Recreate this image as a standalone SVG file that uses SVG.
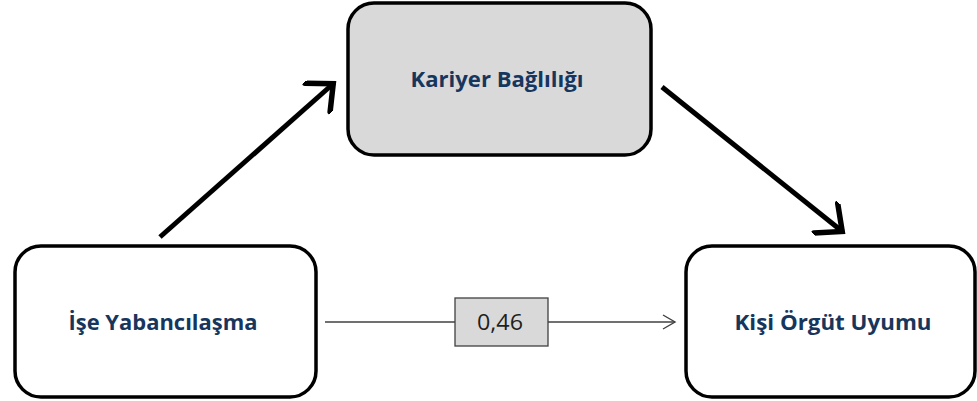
<svg xmlns="http://www.w3.org/2000/svg" width="977" height="401" viewBox="0 0 977 401">
<style>
.box{fill:#ffffff;stroke:#000;stroke-width:3.5}
.grey{fill:#d9d9d9}
.lbl{font-family:"Open Sans","Liberation Sans",sans-serif;font-weight:bold;font-size:21px;fill:#17365d;text-anchor:middle}
.num{font-family:"Open Sans","Liberation Sans",sans-serif;font-size:22px;fill:#1f1f1f;text-anchor:middle}
.thick{stroke:#000;stroke-width:5;fill:none;stroke-linecap:butt}
.thin{stroke:#404040;stroke-width:1.3;fill:none}
</style>
<defs>
<marker id="big" markerWidth="8" markerHeight="8" refX="5.2" refY="4" orient="auto" markerUnits="strokeWidth" viewBox="0 0 8 8">
<path d="M0.8,0.2 L5,4 L0.8,7.8" fill="none" stroke="#000" stroke-width="1.1" stroke-linecap="round" stroke-linejoin="miter"/>
</marker>
<marker id="small" markerWidth="16" markerHeight="18" refX="14" refY="9" orient="auto" markerUnits="userSpaceOnUse" viewBox="0 0 16 18">
<path d="M2,2 L14,9 L2,16" fill="none" stroke="#404040" stroke-width="1.4"/>
</marker>
</defs>
<g id="connectors">
<line class="thick" x1="160" y1="237" x2="334" y2="83" marker-end="url(#big)"/>
<line class="thick" x1="662" y1="87" x2="843" y2="232" marker-end="url(#big)"/>
<line class="thin" x1="325" y1="322" x2="455" y2="322"/>
<line class="thin" x1="548" y1="322" x2="675" y2="322" marker-end="url(#small)"/>
<g id="label-046">
<rect x="455" y="298" width="93" height="48" fill="#d9d9d9" stroke="#404040" stroke-width="1.3"/>
<text class="num" x="500" y="330" textLength="46" lengthAdjust="spacingAndGlyphs">0,46</text>
</g>
</g>
<g id="node-kariyer">
<rect class="box grey" x="348" y="3" width="303" height="152" rx="26"/>
<text class="lbl" x="497" y="87" textLength="173" lengthAdjust="spacingAndGlyphs">Kariyer Bağlılığı</text>
</g>
<g id="node-ise">
<rect class="box" x="15" y="246" width="301" height="151" rx="26"/>
<text class="lbl" x="163" y="330" textLength="189" lengthAdjust="spacingAndGlyphs">İşe Yabancılaşma</text>
</g>
<g id="node-kisi">
<rect class="box" x="686" y="246" width="289" height="151" rx="26"/>
<text class="lbl" x="833" y="330" textLength="197" lengthAdjust="spacingAndGlyphs">Kişi Örgüt Uyumu</text>
</g>
</svg>
